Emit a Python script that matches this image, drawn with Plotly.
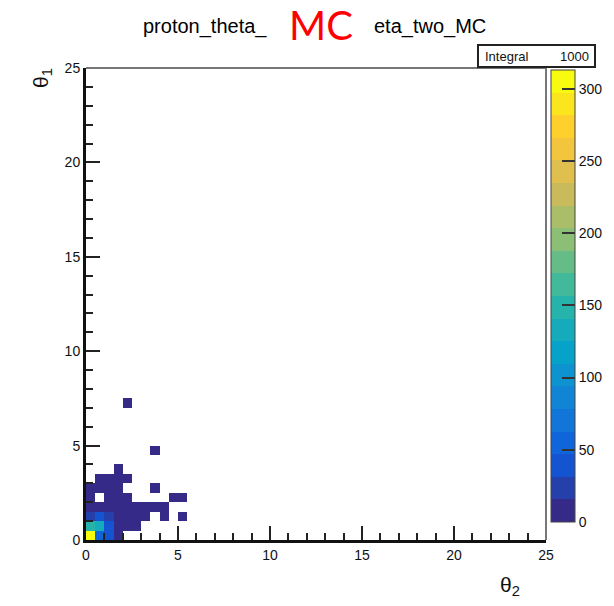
import numpy as np
import plotly.graph_objects as go

# Binning: 50 x 50 bins of width 0.5 over [0, 25] for both angles
n_bins = 50
bin_width = 0.5
edges = np.arange(n_bins + 1) * bin_width

# Filled bins: bin centres (theta_2, theta_1) and their counts
theta2 = [0.25, 0.75, 1.25, 1.75,
          0.25, 0.75, 1.25, 1.75, 2.25, 2.75,
          0.25, 0.75, 1.25, 1.75, 2.25, 2.75, 3.25, 4.25, 5.25,
          0.25, 0.75, 1.25, 1.75, 2.25, 2.75, 3.25, 3.75, 4.25,
          0.25, 1.25, 1.75, 2.25, 4.75, 5.25,
          0.25, 0.75, 1.25, 1.75, 3.75,
          0.75, 1.25, 1.75, 2.25,
          1.75,
          3.75,
          2.25]
theta1 = [0.25, 0.25, 0.25, 0.25,
          0.75, 0.75, 0.75, 0.75, 0.75, 0.75,
          1.25, 1.25, 1.25, 1.25, 1.25, 1.25, 1.25, 1.25, 1.25,
          1.75, 1.75, 1.75, 1.75, 1.75, 1.75, 1.75, 1.75, 1.75,
          2.25, 2.25, 2.25, 2.25, 2.25, 2.25,
          2.75, 2.75, 2.75, 2.75, 2.75,
          3.25, 3.25, 3.25, 3.25,
          3.75,
          4.75,
          7.25]
counts = [313, 50, 35, 8,
          150, 140, 45, 14, 6, 4,
          30, 35, 28, 13, 8, 3, 2, 1, 1,
          14, 13, 11, 9, 5, 4, 2, 1, 1,
          8, 7, 5, 2, 1, 1,
          5, 6, 4, 2, 1,
          2, 4, 2, 1,
          1,
          1,
          1]

axis_ticks = [0, 5, 10, 15, 20, 25]
palette_ticks = [0, 50, 100, 150, 200, 250, 300]

# Fill the 2D histogram; empty bins stay blank
hist, _, _ = np.histogram2d(theta1, theta2, bins=[edges, edges], weights=counts)
z = np.where(hist > 0, hist, np.nan)
centers = edges[:-1] + bin_width / 2
integral = int(np.sum(counts))
zmax = float(np.max(counts))

# ROOT "bird" palette sampled into 20 contour levels
stops = [0.0000, 0.1250, 0.2500, 0.3750, 0.5000, 0.6250, 0.7500, 0.8750, 1.0000]
red = [0.2082, 0.0592, 0.0780, 0.0232, 0.1802, 0.5301, 0.8186, 0.9956, 0.9764]
green = [0.1664, 0.3599, 0.5041, 0.6419, 0.7178, 0.7492, 0.7328, 0.7862, 0.9832]
blue = [0.5293, 0.8684, 0.8385, 0.7914, 0.6425, 0.4662, 0.3499, 0.1968, 0.0539]
n_levels = 20
colorscale = []
for k in range(n_levels):
    f = k / (n_levels - 1)
    r = int(round(255 * np.interp(f, stops, red)))
    g = int(round(255 * np.interp(f, stops, green)))
    b = int(round(255 * np.interp(f, stops, blue)))
    c = f"rgb({r},{g},{b})"
    colorscale.append([k / n_levels, c])
    colorscale.append([(k + 1) / n_levels, c])

W, H = 614, 606
L, R, T, B = 86, 546, 68, 540  # frame in pixels
pw, ph = R - L, B - T


def px(x):
    return (x - L) / pw


def py(y):
    return (B - y) / ph


FONT = "Liberation Sans, Arial, sans-serif"
TICK_COLOR = "#222"

fig = go.Figure()
fig.add_trace(go.Heatmap(
    x=centers, y=centers, z=z,
    zmin=0, zmax=zmax,
    colorscale=colorscale,
    hoverongaps=False,
    colorbar=dict(
        x=px(551), xanchor="left", xpad=0,
        y=py(70), yanchor="top", ypad=0,
        len=452, lenmode="pixels",
        thickness=24, thicknessmode="pixels",
        outlinewidth=1, outlinecolor="#444",
        tickvals=palette_ticks,
        ticks="inside", ticklen=13, tickwidth=2, tickcolor="#333",
        tickfont=dict(family=FONT, size=14, color="#111"),
    ),
))

axis_common = dict(
    range=[0, 25],
    tickvals=axis_ticks,
    ticks="inside", ticklen=14, tickwidth=2, tickcolor=TICK_COLOR,
    minor=dict(ticks="inside", dtick=1, tick0=0, ticklen=7, tickwidth=2,
               tickcolor=TICK_COLOR, showgrid=False),
    showgrid=False, zeroline=False,
    showline=True, linecolor="#111", linewidth=3,
    tickfont=dict(family=FONT, size=14, color="#111"),
    automargin=False,
)

fig.update_layout(
    width=W, height=H,
    margin=dict(l=L, r=W - R, t=T, b=H - B, autoexpand=False),
    paper_bgcolor="white", plot_bgcolor="white",
    xaxis=dict(**axis_common),
    yaxis=dict(**axis_common),
    showlegend=False,
)

# Grey top and right frame edges
fig.add_shape(type="line", xref="paper", yref="paper", x0=0, x1=1, y0=1, y1=1,
              line=dict(color="#777", width=2))
fig.add_shape(type="line", xref="paper", yref="paper", x0=1, x1=1, y0=0, y1=1,
              line=dict(color="#777", width=2))

# Statistics box
fig.add_shape(type="rect", xref="paper", yref="paper",
              x0=px(478), x1=px(595), y0=py(67), y1=py(45),
              line=dict(color="#222", width=2), fillcolor="white", layer="above")

annotations = [
    dict(text="Integral", x=px(483), y=py(56), xanchor="left", yanchor="middle",
         font=dict(family=FONT, size=13, color="#111")),
    dict(text=f"{integral}", x=px(591), y=py(57), xanchor="right", yanchor="middle",
         font=dict(family=FONT, size=13, color="#111")),
    # Title pieces with the red tag in between
    dict(text="proton_theta_", x=px(141), y=py(27), xanchor="left", yanchor="middle",
         font=dict(family=FONT, size=20, color="#000")),
    dict(text="MC", x=px(321), y=py(25), xanchor="center", yanchor="middle",
         font=dict(family="Lato, Open Sans, sans-serif", size=40, color="#ff0000")),
    dict(text="eta_two_MC", x=px(372), y=py(27), xanchor="left", yanchor="middle",
         font=dict(family=FONT, size=20, color="#000")),
    # Axis titles
    dict(text="θ<sub>2</sub>", x=px(522), y=py(586), xanchor="right", yanchor="middle",
         font=dict(family=FONT, size=21, color="#111")),
    dict(text="θ<sub>1</sub>", x=px(42), y=py(78), xanchor="center", yanchor="middle",
         textangle=-90, font=dict(family=FONT, size=21, color="#111")),
]
for a in annotations:
    a.update(xref="paper", yref="paper", showarrow=False)
fig.update_layout(annotations=annotations)

fig.write_html("out.html")
